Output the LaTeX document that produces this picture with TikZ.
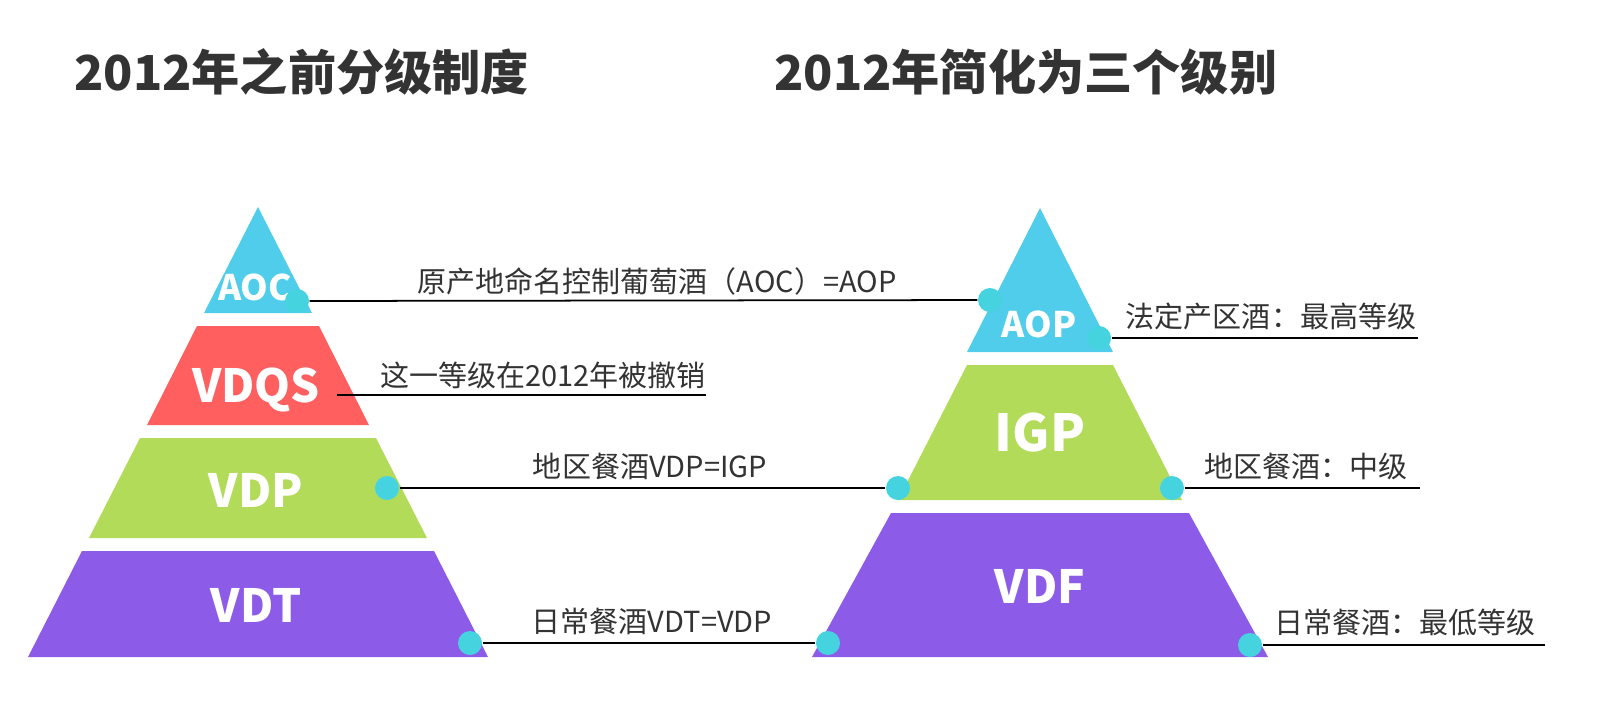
\documentclass[tikz,border=0pt]{standalone}
\usepackage{fontspec}
\setmainfont{Noto Sans CJK SC}
\usetikzlibrary{positioning}
\definecolor{cyanL}{HTML}{4FCDEB}
\definecolor{redL}{HTML}{FF5F5F}
\definecolor{greenL}{HTML}{B3DB5A}
\definecolor{purpleL}{HTML}{8C5CE8}
\definecolor{dotC}{HTML}{45D3E0}
\definecolor{ink}{HTML}{333333}
\begin{document}
\begin{tikzpicture}[x=0.01cm,y=-0.01cm]
\tikzset{
  title/.style={font=\fontsize{13.7}{16}\selectfont\bfseries, text=ink, anchor=west},
  layer/.style={font=\fontsize{13}{15}\selectfont\bfseries, text=white},
  note/.style={font=\fontsize{8.25}{10}\selectfont, text=ink},
  dot/.style={circle, fill=dotC, inner sep=0pt, minimum size=0.24cm},
  link/.style={draw=black, line width=0.5pt}
}
\useasboundingbox (0,0) rectangle (1620,720);
% titles
\node[title] (t1) at (62,72) {2012年之前分级制度};
\node[title] (t2) at (762,72) {2012年简化为三个级别};
% left pyramid
\fill[cyanL] (258,207) -- (312,313) -- (204,313) -- cycle;
\fill[redL] (197,326) -- (319,326) -- (369,425) -- (147,425) -- cycle;
\fill[greenL] (140,438) -- (376,438) -- (427,538) -- (89,538) -- cycle;
\fill[purpleL] (82,551) -- (434,551) -- (488,657) -- (28,657) -- cycle;
\node[layer, font=\fontsize{10}{12}\selectfont\bfseries] (aoc) at (255,287) {AOC};
\node[layer] (vdqs) at (256,390) {VDQS};
\node[layer] (vdp) at (256,490) {VDP};
\node[layer] (vdt) at (256,605) {VDT};
% right pyramid
\fill[cyanL] (1040,208) -- (1113,352) -- (967,352) -- cycle;
\fill[greenL] (967,365) -- (1113,365) -- (1182,500) -- (898,500) -- cycle;
\fill[purpleL] (891,513) -- (1189,513) -- (1268,657) -- (812,657) -- cycle;
\node[layer, font=\fontsize{10}{12}\selectfont\bfseries] (aop) at (1039,324) {AOP};
\node[layer, font=\fontsize{14.5}{17}\selectfont\bfseries] (igp) at (1040,433) {IGP};
\node[layer] (vdf) at (1040,586) {VDF};
% dots
\node[dot] (d1) at (297,301) {};
\node[dot] (d2) at (990,300) {};
\node[dot] (d3) at (387,488) {};
\node[dot] (d4) at (898,488) {};
\node[dot] (d5) at (470,643) {};
\node[dot] (d6) at (828,643) {};
\node[dot] (d7) at (1099,338) {};
\node[dot] (d8) at (1172,488) {};
\node[dot] (d9) at (1250,645) {};
\coordinate (e1) at (337,395);
\coordinate (e2) at (706,395);
\coordinate (e3) at (1418,338);
\coordinate (e4) at (1420,488);
\coordinate (e5) at (1545,645);
% connectors
\path[link] (d1) -- (d2);
\path[link] (e1) -- (e2);
\path[link] (d3) -- (d4);
\path[link] (d5) -- (d6);
\path[link] (d7) -- (e3);
\path[link] (d8) -- (e4);
\path[link] (d9) -- (e5);
% notes
\node[note] (n1) at (657,281) {原产地命名控制葡萄酒（AOC）=AOP};
\node[note] (n2) at (543,375) {这一等级在2012年被撤销};
\node[note] (n3) at (650,466) {地区餐酒VDP=IGP};
\node[note] (n4) at (652,621) {日常餐酒VDT=VDP};
\node[note] (n5) at (1271,316) {法定产区酒：最高等级};
\node[note] (n6) at (1306,466) {地区餐酒：中级};
\node[note] (n7) at (1405,622) {日常餐酒：最低等级};
\end{tikzpicture}
\end{document}
